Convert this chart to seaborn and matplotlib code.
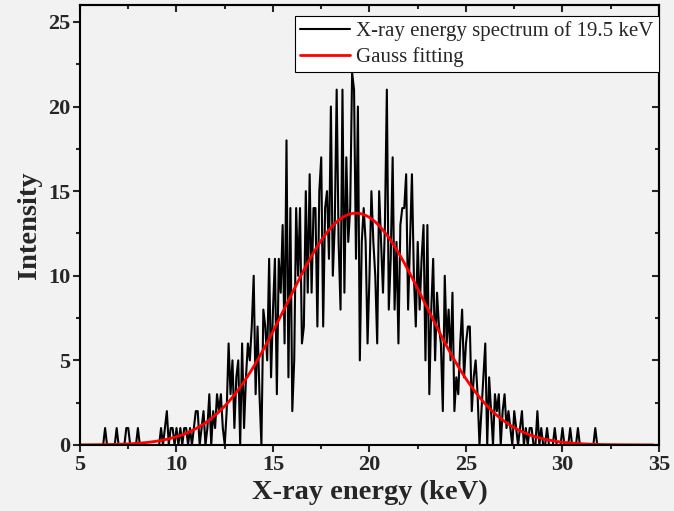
import numpy as np
import pandas as pd
import matplotlib
matplotlib.use("Agg")
import matplotlib.pyplot as plt
from matplotlib.ticker import MultipleLocator
import seaborn as sns

# channel grid of the spectrum (keV), 0.1 keV per channel
energy = np.round(np.arange(5.0, 35.0001, 0.1), 1)

# counts per channel, one row = 1 keV
counts = [
    0, 0, 0, 0, 0, 0, 0, 0, 0, 0,        # 5
    0, 0, 0, 1, 0, 0, 0, 0, 0, 1,        # 6
    0, 0, 0, 0, 1, 1, 0, 0, 0, 0,        # 7
    1, 0, 0, 0, 0, 0, 0, 0, 0, 0,        # 8
    0, 0, 1, 0, 1, 2, 0, 1, 1, 0,        # 9
    1, 0, 1, 0, 1, 1, 0, 1, 0, 1,        # 10
    2, 2, 0, 1, 2, 0, 1, 3, 0, 2,        # 11
    1, 3, 2, 3, 1, 0, 2, 6, 3, 5,        # 12
    1, 4, 5, 0, 6, 1, 4, 6, 5, 7,        # 13
    10, 3, 7, 3, 0, 8, 7, 5, 11, 4,      # 14
    8, 11, 3, 11, 9, 13, 6, 18, 4, 14,   # 15
    2, 5, 14, 10, 14, 6, 7, 15, 9, 16,   # 16
    9, 14, 14, 7, 15, 17, 7, 14, 15, 11, # 17
    20, 10, 13, 21, 12, 8, 21, 9, 17, 12,  # 18
    14, 22, 21, 11, 20, 5, 12, 14, 12, 6,  # 19
    10, 15, 12, 10, 6, 15, 12, 9, 13, 21,  # 20
    8, 11, 17, 8, 12, 6, 13, 14, 14, 16,   # 21
    8, 12, 16, 10, 7, 12, 8, 11, 13, 5,    # 22
    13, 3, 8, 11, 5, 9, 7, 6, 2, 10,       # 23
    6, 8, 5, 9, 2, 4, 3, 6, 8, 4,          # 24
    6, 7, 7, 2, 4, 5, 3, 0, 2, 4,          # 25
    6, 0, 4, 2, 0, 3, 2, 3, 0, 2,          # 26
    3, 1, 2, 1, 0, 2, 1, 0, 1, 2,          # 27
    0, 1, 0, 1, 1, 0, 0, 2, 0, 1,          # 28
    0, 0, 1, 0, 0, 0, 1, 0, 0, 0,          # 29
    1, 0, 0, 0, 1, 0, 0, 0, 1, 0,          # 30
    0, 0, 0, 0, 0, 0, 0, 1, 0, 0,          # 31
    0, 0, 0, 0, 0, 0, 0, 0, 0, 0,          # 32
    0, 0, 0, 0, 0, 0, 0, 0, 0, 0,          # 33
    0, 0, 0, 0, 0, 0, 0, 0, 0, 0,          # 34
    0,                                     # 35
]

# Gauss fit parameters
fit_xc = 19.3
fit_amp = 13.7
fit_sigma = 3.6
fit_x = np.linspace(5.0, 34.7, 400)
fit_y = fit_amp * np.exp(-(fit_x - fit_xc) ** 2 / (2 * fit_sigma ** 2))

spec = pd.DataFrame({"energy": energy, "counts": counts})
fit = pd.DataFrame({"energy": fit_x, "fit": fit_y})

sns.set_theme(style="ticks")
plt.rcParams["font.family"] = ["Liberation Serif", "DejaVu Serif"]
bg = "#f2f2f2"

fig = plt.figure(figsize=(6.74, 5.11), dpi=100, facecolor=bg)
ax = fig.add_axes([0.1187, 0.1292, 0.859, 0.861])
ax.set_facecolor(bg)

sns.lineplot(data=spec, x="energy", y="counts", ax=ax, color="black",
             linewidth=1.5, estimator=None, label="X-ray energy spectrum of 19.5 keV")
sns.lineplot(data=fit, x="energy", y="fit", ax=ax, color="red",
             linewidth=2.0, estimator=None, label="Gauss fitting")

ax.set_xlim(5, 35)
ax.set_ylim(0, 26)
ax.xaxis.set_major_locator(MultipleLocator(5))
ax.xaxis.set_minor_locator(MultipleLocator(2.5))
ax.yaxis.set_major_locator(MultipleLocator(5))
ax.yaxis.set_minor_locator(MultipleLocator(2.5))
ax.tick_params(which="major", direction="out", length=5, width=1.5,
               labelsize=16, pad=2)
ax.tick_params(which="minor", direction="out", length=3, width=1.5)
for lab in ax.get_xticklabels() + ax.get_yticklabels():
    lab.set_fontweight("bold")
for sp in ax.spines.values():
    sp.set_visible(True)
    sp.set_linewidth(1.5)
    sp.set_color("black")

# inward ticks on top and right
top = ax.secondary_xaxis("top")
top.xaxis.set_major_locator(MultipleLocator(5))
top.xaxis.set_minor_locator(MultipleLocator(2.5))
top.tick_params(which="major", direction="in", length=5, width=1.5, labeltop=False)
top.tick_params(which="minor", direction="in", length=3, width=1.5)
right = ax.secondary_yaxis("right")
right.yaxis.set_major_locator(MultipleLocator(5))
right.yaxis.set_minor_locator(MultipleLocator(2.5))
right.tick_params(which="major", direction="in", length=5, width=1.5, labelright=False)
right.tick_params(which="minor", direction="in", length=3, width=1.5)
top.spines["top"].set_linewidth(1.5)
right.spines["right"].set_linewidth(1.5)

ax.set_xlabel("X-ray energy (keV)", fontsize=20.5, fontweight="bold", labelpad=4)
ax.set_ylabel("Intensity", fontsize=20.5, fontweight="bold", labelpad=4)

leg = ax.legend(loc="upper right", bbox_to_anchor=(1.0, 0.975), fontsize=15,
                frameon=True, fancybox=False, borderaxespad=0.0,
                handlelength=2.4, handletextpad=0.3,
                borderpad=0.25, labelspacing=0.3)
leg.get_frame().set_edgecolor("black")
leg.get_frame().set_linewidth(0.8)
leg.get_frame().set_facecolor("white")
leg.get_frame().set_alpha(1)

fig.savefig("out.png", dpi=100, facecolor=bg)
